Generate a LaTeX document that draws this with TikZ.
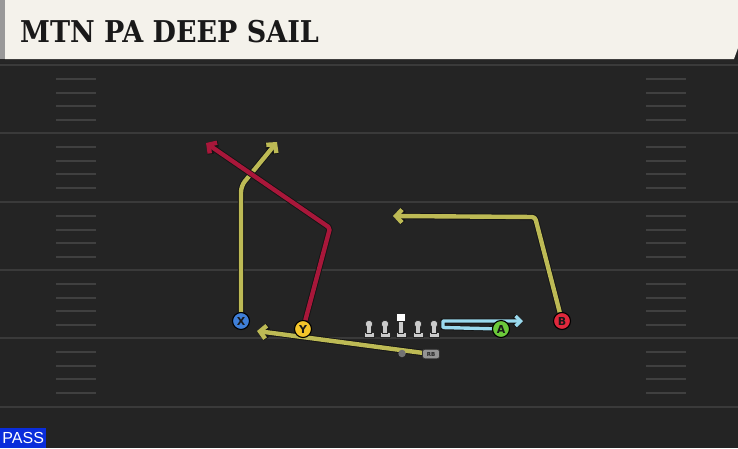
\documentclass[tikz,border=0pt]{standalone}
\usepackage{fontspec}
\setmainfont{DejaVu Sans}
\newfontfamily\titlefont{DejaVu Serif Condensed}
\newfontfamily\passfont{Liberation Sans}
\usetikzlibrary{arrows.meta}
\definecolor{fieldbg}{HTML}{242424}
\definecolor{yardln}{HTML}{3A3A3A}
\definecolor{hashln}{HTML}{404040}
\definecolor{headbg}{HTML}{F4F2EB}
\definecolor{olive}{HTML}{BDBA55}
\definecolor{crim}{HTML}{A8173A}
\definecolor{skyb}{HTML}{9ADAEE}
\definecolor{pblue}{HTML}{3F7FD8}
\definecolor{pyellow}{HTML}{F4C52A}
\definecolor{pgreen}{HTML}{6BC93A}
\definecolor{pred}{HTML}{E0283C}
\definecolor{passblue}{HTML}{0A2DDB}
\definecolor{olin}{HTML}{CBCBCB}
\pgfdeclarelayer{field}
\pgfdeclarelayer{routes}
\pgfsetlayers{field,routes,main}
\tikzset{
  route/.style={line width=4.4pt, line join=round,
    preaction={draw=black!92, line width=6.2pt}},
  tipped/.style={-{Straight Barb[length=6pt,width=13pt]}},
  player/.style={circle, draw=black, line width=1.1pt, minimum size=17pt, inner sep=0pt,
    font=\bfseries\fontsize{11}{11}\selectfont, text=black!90},
  lman/.style={fill=olin, draw=black!85, line width=0.7pt},
}
\begin{document}
\begin{tikzpicture}[x=1pt,y=-1pt]
\useasboundingbox (0,0) rectangle (738,448);
\begin{pgfonlayer}{field}
  \fill[fieldbg] (0,0) rectangle (738,448);
  \fill[black!85] (0,59) rectangle (738,63);
  \foreach \y in {65,133,202,270,338,407} {
    \draw[yardln, line width=1.6pt] (0,\y) -- (738,\y);
  }
  \foreach \y in {65,133,202,270,338} {
    \foreach \d in {14,28,41,55} {
      \draw[hashln, line width=1.2pt] (56,\y+\d) -- (96,\y+\d);
      \draw[hashln, line width=1.2pt] (646,\y+\d) -- (686,\y+\d);
    }
  }
  \fill[headbg] (5,0) -- (738,0) -- (738,48) -- (734,59) -- (5,59) -- cycle;
  \fill[black!40] (0,0) rectangle (5,59);
\end{pgfonlayer}
\node[anchor=base west, inner sep=0pt, font=\titlefont\bfseries\fontsize{30}{30}\selectfont, text=black!90] (title) at (20,42.7) {MTN PA DEEP SAIL};

% players
\node[player, fill=pblue] (X) at (241,321) {X};
\node[player, fill=pyellow] (Y) at (303,329) {Y};
\node[player, fill=pgreen] (A) at (501,329) {A};
\node[player, fill=pred] (B) at (562,321) {B};
\node[fill=black!42, draw=black!80, line width=0.7pt, rounded corners=2.5pt, minimum width=17pt, minimum height=9.5pt, inner sep=0pt, font=\bfseries\fontsize{5.5}{5.5}\selectfont, text=black!85] (RB) at (431,354) {RB};
\node[circle, fill=black!55, minimum size=7.5pt, inner sep=0pt] (dot) at (402,353.5) {};

% linemen
\foreach \x in {369,385,418,434} {
  \fill[lman] (\x-5,332) rectangle (\x+5,337.5);
  \fill[lman] (\x-2.6,325) rectangle (\x+2.6,333);
  \fill[lman] (\x,324) circle (3.8);
  \fill[olin] (\x-1.9,325.5) rectangle (\x+1.9,332.6);
}
\fill[lman] (396,332) rectangle (406,337.5);
\fill[lman] (398.4,320) rectangle (403.6,333);
\fill[fill=white, draw=black!85, line width=0.7pt] (396.5,313.5) rectangle (405.5,321.5);
\fill[olin] (399.1,322) rectangle (402.9,332.6);

\coordinate (xb) at (241,186);
\coordinate (xt) at (277,142);
\coordinate (yb) at (330,228);
\coordinate (yt) at (206,143);
\coordinate (bb) at (535,217);
\coordinate (bt) at (393,216);
\coordinate (rt) at (257,331);
\coordinate (a1) at (443,327.5);
\coordinate (a2) at (443,321);
\coordinate (at) at (523,321);

\begin{pgfonlayer}{routes}
  \draw[route, olive, tipped, rounded corners=6pt] (X) -- (xb) -- (xt);
  \draw[route, olive, tipped] (RB) -- (rt);
  \draw[route, olive, tipped, rounded corners=3pt] (B) -- (bb) -- (bt);
  \draw[route, crim, tipped, rounded corners=2pt] (Y) -- (yb) -- (yt);
  \draw[skyb, line width=3.4pt, line join=round, preaction={draw=black!92, line width=5pt},
        -{Straight Barb[length=5pt,width=10pt]}] (A) -- (a1) -- (a2) -- (at);
\end{pgfonlayer}

\node[anchor=south west, fill=passblue, text=white, inner sep=0pt, minimum width=46pt, minimum height=20pt,
      font=\passfont\fontsize{16}{16}\selectfont] (pass) at (0,448) {PASS};
\end{tikzpicture}
\end{document}
